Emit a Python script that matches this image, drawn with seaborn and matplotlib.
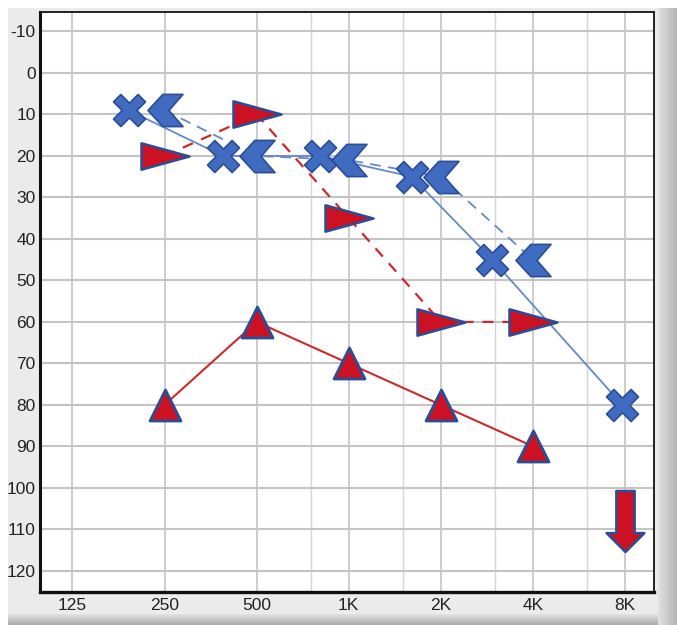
import numpy as np
import pandas as pd
import matplotlib
matplotlib.use("Agg")
import matplotlib.pyplot as plt
import seaborn as sns
from matplotlib.path import Path

# ---------------- data ----------------
tick_freqs = [125, 250, 500, 1000, 2000, 4000, 8000]
tick_labels = ["125", "250", "500", "1K", "2K", "4K", "8K"]
minor_freqs = [750, 1500, 3000, 6000]
db_ticks = list(range(-10, 121, 10))

x_freqs = [250, 500, 1000, 2000, 4000, 8000]        # blue X, solid line
x_db = [9, 20, 20, 25, 45, 80]

chev_freqs = [250, 500, 1000, 2000, 4000]           # blue "<", dashed line
chev_db = [9, 20, 21, 25, 45]

rtri_freqs = [250, 500, 1000, 2000, 4000]           # red ">", dashed line
rtri_db = [20, 10, 35, 60, 60]

utri_freqs = [250, 500, 1000, 2000, 4000]           # red "^", solid line
utri_db = [80, 60, 70, 80, 90]

arrow_freqs = [8000]                                # no-response arrow
arrow_db = [108]

# ---------------- styles ----------------
W, H, DPI = 677, 625, 100
BLUE = "#3f6cc0"
BLUE_EDGE = "#2b4d96"
BLUE_LINE = "#6688cc"
RED = "#cc1222"
RED_LINE = "#cc2a2a"
# visual left shift (in octaves) of the X symbols relative to their frequency
x_shift_oct = [0.39, 0.365, 0.315, 0.315, 0.44, 0.03]

sns.set_theme(style="white")
plt.rcParams["font.family"] = ["Liberation Sans", "DejaVu Sans"]

fig = plt.figure(figsize=(W / DPI, H / DPI), dpi=DPI)

# background panel with shadow
bg = np.ones((H, W, 3))
panel = np.array([0.925, 0.925, 0.925])
bg[8:614, 8:658] = panel
for i, xx in enumerate(range(658, W)):
    t = i / (W - 658)
    bg[8:H, xx] = 0.88 - 0.18 * t
for j, yy in enumerate(range(614, H)):
    t = j / (H - 614)
    bg[yy, 8:658] = 0.88 - 0.22 * t
bax = fig.add_axes([0, 0, 1, 1], zorder=-5)
bax.imshow(bg, aspect="auto", extent=(0, W, H, 0))
bax.set_axis_off()

ax = fig.add_axes([40 / W, 1 - 592 / H, (654 - 40) / W, (592 - 12) / H])
ax.set_facecolor("white")
ax.set_xscale("log")
ax.set_xlim(97.9, 9950)
ax.set_ylim(125.1, -14.7)

# grid
for f in tick_freqs:
    ax.axvline(f, color="#c4c4c4", lw=1.2, zorder=0)
for f in minor_freqs:
    ax.axvline(f, color="#d4d4d4", lw=1.0, zorder=0)
for d in db_ticks:
    ax.axhline(d, color="#c4c4c4", lw=1.5, zorder=0)

ax.set_xticks(tick_freqs)
ax.set_xticklabels(tick_labels)
ax.xaxis.set_minor_locator(matplotlib.ticker.NullLocator())
ax.set_yticks(db_ticks)
ax.set_yticklabels([str(d) for d in db_ticks])
ax.tick_params(axis="both", length=0, labelsize=12.5, colors="#222222")
ax.tick_params(axis="y", pad=3)
ax.tick_params(axis="x", pad=4)
for s in ax.spines.values():
    s.set_color("#111111")
    s.set_linewidth(1.3)
ax.spines["left"].set_linewidth(2.2)
ax.spines["bottom"].set_linewidth(2.4)

# ---------------- marker shapes ----------------
def bold_x(w=0.3):
    pts = [(-w, 1), (w, 1), (w, w), (1, w), (1, -w), (w, -w), (w, -1),
           (-w, -1), (-w, -w), (-1, -w), (-1, w), (-w, w), (-w, 1)]
    c, s = np.cos(np.pi / 4), np.sin(np.pi / 4)
    pts = [(x * c - y * s, x * s + y * c) for x, y in pts]
    codes = [Path.MOVETO] + [Path.LINETO] * (len(pts) - 2) + [Path.CLOSEPOLY]
    return Path(pts, codes)

def chevron():
    pts = [(-1, 0), (-0.15, 0.92), (1, 0.92), (0.2, 0), (1, -0.92),
           (-0.15, -0.92), (-1, 0)]
    codes = [Path.MOVETO] + [Path.LINETO] * 5 + [Path.CLOSEPOLY]
    return Path(pts, codes)

def right_tri():
    pts = [(-1, 0.55), (1, 0), (-1, -0.55), (-1, 0.55)]
    codes = [Path.MOVETO, Path.LINETO, Path.LINETO, Path.CLOSEPOLY]
    return Path(pts, codes)

def down_arrow():
    pts = [(-0.3, 1), (0.3, 1), (0.3, -0.38), (0.62, -0.38), (0, -1),
           (-0.62, -0.38), (-0.3, -0.38), (-0.3, 1)]
    codes = [Path.MOVETO] + [Path.LINETO] * 6 + [Path.CLOSEPOLY]
    return Path(pts, codes)

pt = 72 / DPI  # points per pixel

x_disp = [f * 2 ** (-s) for f, s in zip(x_freqs, x_shift_oct)]
df_x = pd.DataFrame({"freq": x_disp, "db": x_db})
df_c = pd.DataFrame({"freq": chev_freqs, "db": chev_db})
df_r = pd.DataFrame({"freq": rtri_freqs, "db": rtri_db})
df_u = pd.DataFrame({"freq": utri_freqs, "db": utri_db})
df_a = pd.DataFrame({"freq": arrow_freqs, "db": arrow_db})

# lines
sns.lineplot(data=df_x, x="freq", y="db", ax=ax, color=BLUE_LINE, lw=1.3,
             sort=False, estimator=None, zorder=2)
sns.lineplot(data=df_c, x="freq", y="db", ax=ax, color=BLUE_LINE, lw=1.3,
             sort=False, estimator=None, zorder=2, dashes=False,
             linestyle=(0, (6, 4)))
sns.lineplot(data=df_u, x="freq", y="db", ax=ax, color=RED_LINE, lw=1.5,
             sort=False, estimator=None, zorder=2)
sns.lineplot(data=df_r, x="freq", y="db", ax=ax, color=RED_LINE, lw=1.6,
             sort=False, estimator=None, zorder=2, dashes=False,
             linestyle=(0, (5, 4)))

# markers
sns.scatterplot(data=df_u, x="freq", y="db", ax=ax, marker="^",
                s=(31 * pt) ** 2, color=RED, edgecolor=BLUE_EDGE,
                linewidth=2.0, zorder=4)
sns.scatterplot(data=df_r, x="freq", y="db", ax=ax, marker=right_tri(),
                s=(48 * pt) ** 2, color=RED, edgecolor=BLUE_EDGE,
                linewidth=1.8, zorder=4)
sns.scatterplot(data=df_c, x="freq", y="db", ax=ax, marker=chevron(),
                s=(35 * pt) ** 2, color=BLUE, edgecolor=BLUE_EDGE,
                linewidth=1.2, zorder=5)
sns.scatterplot(data=df_x, x="freq", y="db", ax=ax, marker=bold_x(),
                s=(32 * pt) ** 2, color=BLUE, edgecolor=BLUE_EDGE,
                linewidth=1.2, zorder=5)
sns.scatterplot(data=df_a, x="freq", y="db", ax=ax, marker=down_arrow(),
                s=(61 * pt) ** 2, color=RED, edgecolor=BLUE_EDGE,
                linewidth=1.8, zorder=5)

ax.set_xlabel("")
ax.set_ylabel("")
if ax.get_legend():
    ax.get_legend().remove()

fig.savefig("out.png", dpi=DPI)
